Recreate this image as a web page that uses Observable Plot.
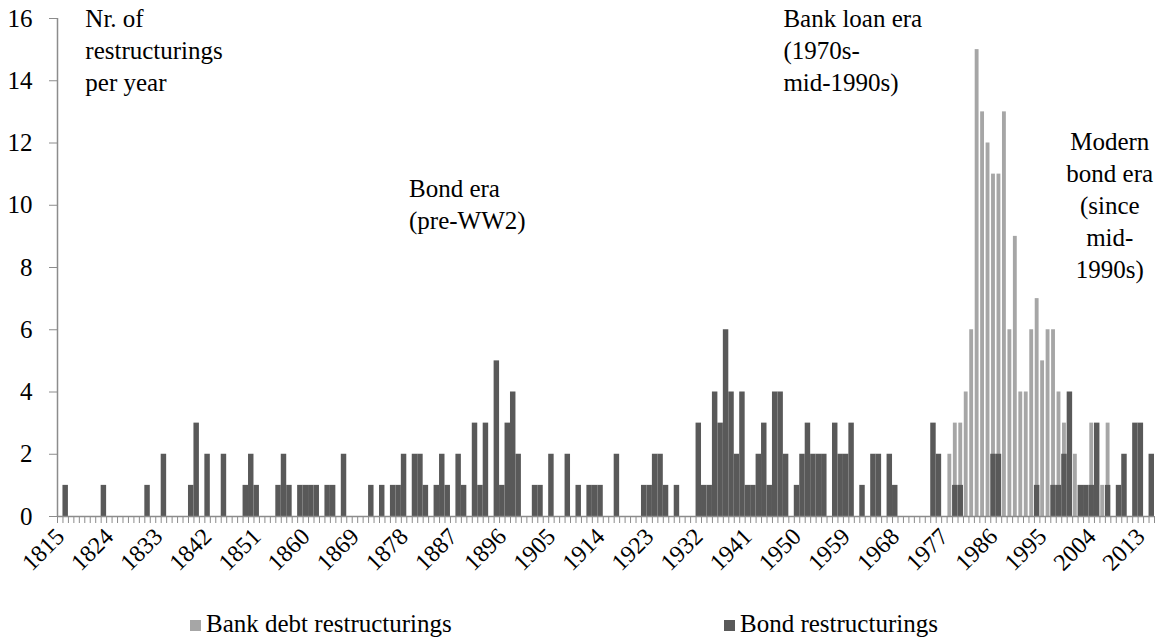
<!DOCTYPE html>
<html><head><meta charset="utf-8">
<script src="https://cdn.jsdelivr.net/npm/d3@7"></script>
<script src="https://cdn.jsdelivr.net/npm/@observablehq/plot@0.6"></script>
<style>
body{margin:0;background:#fff;font-family:"Liberation Serif","Tinos","Times New Roman","DejaVu Serif",serif;}
#legend{position:relative;height:42px;width:1155px;font-size:25px;color:#000;}
.item{position:absolute;top:9px;display:flex;align-items:center;line-height:30px;}
.sw{width:11px;height:11px;margin-right:5px;margin-top:2px;}
</style></head><body><div id="chart"></div><div id="legend"></div>
<script>
// Bond restructurings per year
const bondYears  = [1816,1823,1831,1834,1839,1840,1842,1845,1849,1850,1851,1855,1856,1857,1859,1860,1861,1862,1864,1865,1867,1872,1874,1876,1877,1878,1880,1881,1882,1884,1885,1886,1888,1889,1891,1892,1893,1895,1896,1897,1898,1899,1902,1903,1905,1908,1910,1912,1913,1914,1917,1922,1923,1924,1925,1926,1928,1932,1933,1934,1935,1936,1937,1938,1939,1940,1941,1942,1943,1944,1945,1946,1947,1948,1950,1951,1952,1953,1954,1955,1957,1958,1959,1960,1962,1964,1965,1967,1968,1975,1976,1979,1980,1986,1987,1994,1997,1998,1999,2000,2002,2003,2004,2005,2007,2009,2010,2012,2013,2015];
const bondCounts = [1,1,1,2,1,3,2,2,1,2,1,1,2,1,1,1,1,1,1,1,2,1,1,1,1,2,2,2,1,1,2,1,2,1,3,1,3,5,1,3,4,2,1,1,2,2,1,1,1,1,2,1,1,2,2,1,1,3,1,1,4,3,6,4,2,4,1,1,2,3,1,4,4,2,1,2,3,2,2,2,3,2,2,3,1,2,2,2,1,3,2,1,1,2,2,1,1,1,2,4,1,1,1,3,1,1,2,3,3,2];
// Bank debt restructurings per year
const bankYears  = [1978,1979,1980,1981,1982,1983,1984,1985,1986,1987,1988,1989,1990,1991,1992,1993,1994,1995,1996,1997,1998,1999,2001,2004,2006,2007];
const bankCounts = [2,3,3,4,6,15,13,12,11,11,13,6,9,4,4,6,7,5,6,6,4,3,2,3,1,3];
// Axis
const firstYear = 1815, lastYear = 2015;
const labelYears = d3.range(1815, 2014, 9);
const yTicks = [0,2,4,6,8,10,12,14,16];
// Annotations (left-aligned)
const leftNotes = ["Nr. of\nrestructurings\nper year", "Bond era\n(pre-WW2)", "Bank loan era\n(1970s-\nmid-1990s)"];
const leftNoteX = [1820.1, 1879.4, 1948.0];
const leftNoteY = [16.46, 11.0, 16.46];
// Annotation (centred)
const midNotes = ["Modern\nbond era\n(since\nmid-\n1990s)"];
const midNoteX = [2007.8];
const midNoteY = [12.5];

const bond = bondYears.map((y, i) => ({year: y, value: bondCounts[i]}));
const bank = bankYears.map((y, i) => ({year: y, value: bankCounts[i]}));
const notesL = leftNotes.map((t, i) => ({text: t, x: leftNoteX[i], y: leftNoteY[i]}));
const notesM = midNotes.map((t, i) => ({text: t, x: midNoteX[i], y: midNoteY[i]}));

const BANK = "#a6a6a6", BOND = "#595959", AXIS = "#8c8c8c";
const FONT = "'Liberation Serif', 'Tinos', 'Times New Roman', 'DejaVu Serif', serif";

const chart = Plot.plot({
  width: 1155,
  height: 600,
  marginLeft: 57,
  marginRight: 1,
  marginTop: 18,
  marginBottom: 84,
  style: {fontFamily: FONT, fontSize: "25px", color: "#000", background: "#fff"},
  x: {type: "linear", domain: [firstYear, lastYear + 1]},
  y: {domain: [0, 16]},
  marks: [
    Plot.rectY(bank, {x1: "year", x2: d => d.year + 1, y: "value", fill: BANK, insetLeft: 0.8, insetRight: 0.8}),
    Plot.rectY(bond, {x1: "year", x2: d => d.year + 1, y: "value", fill: BOND}),
    Plot.axisX(d3.range(firstYear, lastYear + 2), {tickSize: 7, tickFormat: () => "", stroke: AXIS, label: null}),
    Plot.axisX(labelYears.map(d => d + 0.5), {tickSize: 0, tickPadding: 16, tickRotate: -45, tickFormat: d => String(d - 0.5), fontSize: 24, fontFamily: FONT, label: null}),
    Plot.axisY(yTicks, {tickSize: 8, tickPadding: 17, stroke: AXIS, fontSize: 25, fontFamily: FONT, label: null, tickFormat: d => String(d)}),
    Plot.ruleY([0], {stroke: AXIS, strokeWidth: 1.5}),
    Plot.ruleX([firstYear], {y1: 0, y2: 16, stroke: AXIS, strokeWidth: 1.5}),
    Plot.text(notesL, {x: "x", y: "y", text: "text", textAnchor: "start", lineAnchor: "top", lineHeight: 1.28, fontSize: 25, fontFamily: FONT, fill: "#000"}),
    Plot.text(notesM, {x: "x", y: "y", text: "text", textAnchor: "middle", lineAnchor: "top", lineHeight: 1.28, fontSize: 25, fontFamily: FONT, fill: "#000"})
  ]
});
document.getElementById("chart").appendChild(chart);

const legend = document.getElementById("legend");
[["Bank debt restructurings", BANK, 190], ["Bond restructurings", BOND, 724]].forEach(([label, color, left]) => {
  const item = document.createElement("div");
  item.className = "item";
  item.style.left = left + "px";
  const sw = document.createElement("span");
  sw.className = "sw";
  sw.style.background = color;
  const tx = document.createElement("span");
  tx.textContent = label;
  item.appendChild(sw); item.appendChild(tx);
  legend.appendChild(item);
});
</script></body></html>
